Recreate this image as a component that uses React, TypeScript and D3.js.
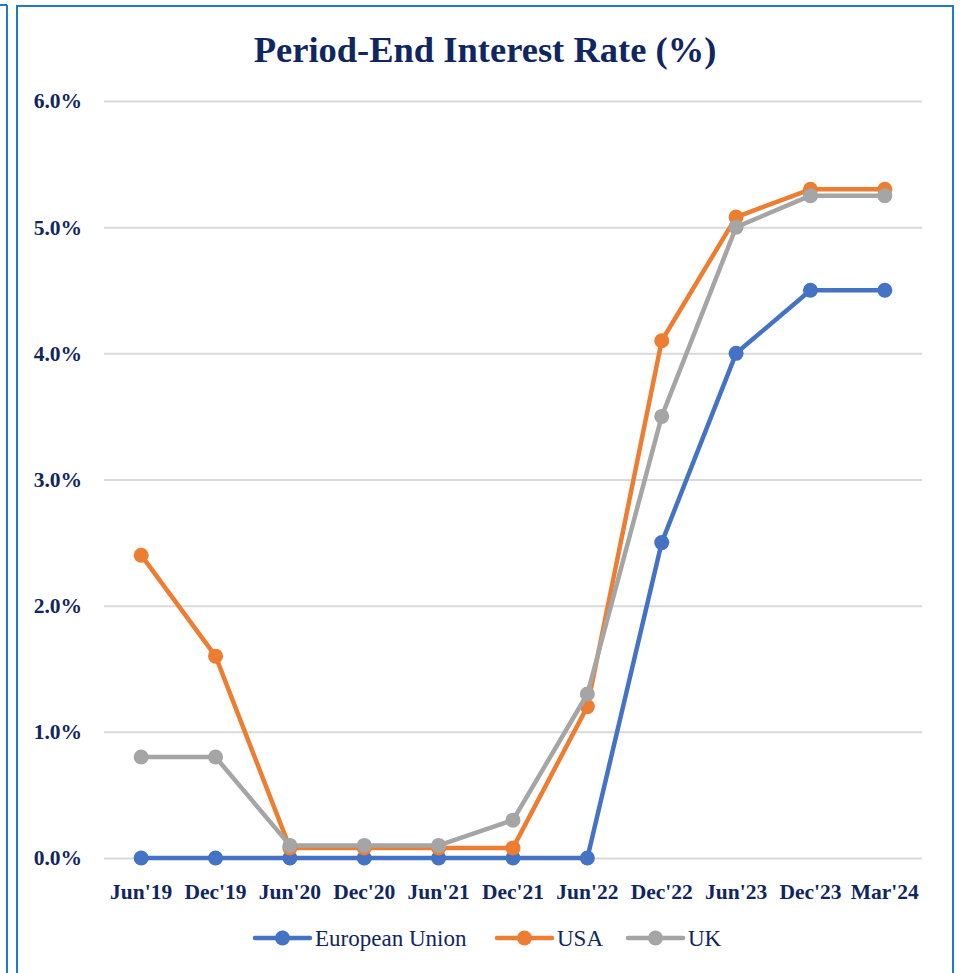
import React, { useEffect, useRef } from 'react';
import * as d3 from 'd3';

const periods = ["Jun'19", "Dec'19", "Jun'20", "Dec'20", "Jun'21", "Dec'21", "Jun'22", "Dec'22", "Jun'23", "Dec'23", "Mar'24"];
const euRates = [0, 0, 0, 0, 0, 0, 0, 2.5, 4.0, 4.5, 4.5];
const usaRates = [2.4, 1.6, 0.08, 0.08, 0.08, 0.08, 1.2, 4.1, 5.08, 5.3, 5.3];
const ukRates = [0.8, 0.8, 0.1, 0.1, 0.1, 0.3, 1.3, 3.5, 5.0, 5.25, 5.25];
const yTicks = [0, 1, 2, 3, 4, 5, 6];
const seriesNames = ['European Union', 'USA', 'UK'];
const seriesColors = ['#4472C4', '#ED7D31', '#A5A5A5'];

const W = 963;
const H = 973;
const navy = '#0F2660';
const font = '"Liberation Serif", "DejaVu Serif", serif';

const App = () => {
  const ref = useRef<SVGSVGElement | null>(null);

  useEffect(() => {
    const svg = d3.select(ref.current);
    svg.selectAll('*').remove();

    // page frames
    svg.append('line').attr('x1', 7).attr('x2', 7).attr('y1', 5).attr('y2', H)
      .attr('stroke', '#1E7BC8').attr('stroke-width', 2);
    svg.append('line').attr('x1', 0).attr('x2', 7).attr('y1', 5).attr('y2', 5)
      .attr('stroke', '#1E7BC8').attr('stroke-width', 2);
    svg.append('rect').attr('x', 17).attr('y', 6).attr('width', 936).attr('height', H + 20)
      .attr('fill', 'white').attr('stroke', '#1E7BC8').attr('stroke-width', 2);

    const margin = { left: 104, right: 41, top: 101, bottom: 115 };
    const x = d3.scaleBand<string>()
      .domain(periods)
      .range([margin.left, W - margin.right]);
    const y = d3.scaleLinear().domain([0, 6]).range([H - margin.bottom, margin.top]);
    const cx = (p: string) => (x(p) as number) + x.bandwidth() / 2;

    // title
    svg.append('text')
      .attr('x', 485).attr('y', 62)
      .attr('text-anchor', 'middle')
      .attr('font-family', font).attr('font-weight', 'bold').attr('font-size', 36.5)
      .attr('fill', navy)
      .text('Period-End Interest Rate (%)');

    // gridlines + y labels
    const yAxis = d3.axisLeft(y).tickValues(yTicks)
      .tickSize(-(W - margin.left - margin.right))
      .tickPadding(22)
      .tickFormat(d => `${(+d).toFixed(1)}%`);
    const yg = svg.append('g').attr('transform', `translate(${margin.left},0)`).call(yAxis)
      .attr('font-family', font).attr('font-size', 21.5).attr('font-weight', 'bold');
    yg.select('.domain').remove();
    yg.selectAll('.tick line').attr('stroke', '#D9D9D9').attr('stroke-width', 2);
    yg.selectAll('.tick text').attr('fill', navy);

    // x labels
    const xAxis = d3.axisBottom(x).tickSize(0).tickPadding(26);
    const xg = svg.append('g').attr('transform', `translate(0,${y(0)})`).call(xAxis)
      .attr('font-family', font).attr('font-size', 21.5).attr('font-weight', 'bold');
    xg.select('.domain').remove();
    xg.selectAll('.tick text').attr('fill', navy);

    const allSeries = [euRates, usaRates, ukRates];
    const line = d3.line<number>()
      .x((_, i) => cx(periods[i]))
      .y(d => y(d));

    allSeries.forEach((vals, si) => {
      const g = svg.append('g');
      g.append('path').datum(vals)
        .attr('fill', 'none').attr('stroke', seriesColors[si]).attr('stroke-width', 4.5)
        .attr('stroke-linejoin', 'round')
        .attr('d', line);
      g.selectAll('circle').data(vals).join('circle')
        .attr('cx', (_, i) => cx(periods[i]))
        .attr('cy', d => y(d))
        .attr('r', 7.5)
        .attr('fill', seriesColors[si]);
    });

    // legend
    const legendX = [255, 497, 628];
    const ly = 938;
    seriesNames.forEach((name, i) => {
      const g = svg.append('g').attr('transform', `translate(${legendX[i]},${ly})`);
      g.append('line').attr('x1', 0).attr('x2', 55).attr('y1', 0).attr('y2', 0)
        .attr('stroke', seriesColors[i]).attr('stroke-width', 4.5).attr('stroke-linecap', 'round');
      g.append('circle').attr('cx', 27.5).attr('cy', 0).attr('r', 7.5).attr('fill', seriesColors[i]);
      g.append('text').attr('x', 60).attr('y', 8)
        .attr('fill', navy).attr('font-family', font).attr('font-size', 23)
        .text(name);
    });
  }, []);

  return (
    <svg ref={ref} width={W} height={H}
      style={{ position: 'absolute', left: 0, top: 0, background: 'white' }} />
  );
};

export default App;
